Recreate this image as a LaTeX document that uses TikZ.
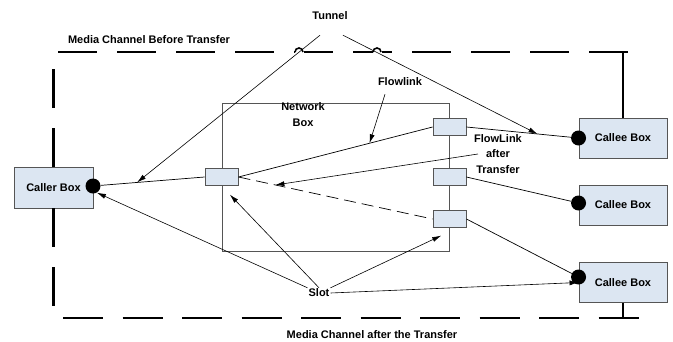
\documentclass[tikz,border=0pt]{standalone}
\usepackage{fontspec}
\setmainfont{Liberation Sans}
\usetikzlibrary{positioning,arrows.meta}
\definecolor{boxfill}{RGB}{220,230,242}
\definecolor{boxline}{RGB}{85,85,85}

\begin{document}
\begin{tikzpicture}[
    x=1pt,y=-1pt,
    font=\fontsize{11}{15.5}\selectfont\bfseries,
    mybox/.style={draw=boxline,fill=boxfill,line width=0.9pt,inner sep=0pt,
      minimum width=88pt,minimum height=40pt},
    myslot/.style={draw=boxline,fill=boxfill,line width=0.9pt,inner sep=0pt,
      minimum width=33pt,minimum height=17pt},
    mydot/.style={circle,fill=black,inner sep=0pt,minimum size=15pt},
    lbl/.style={align=center,inner sep=1pt},
    channel/.style={line width=2.6pt,dash pattern=on 39pt off 20pt},
    link/.style={line width=0.7pt},
    ptr/.style={line width=0.6pt,-{Latex[length=9pt,width=5pt]}}
  ]
  \useasboundingbox (0,0) rectangle (673,341);

  % boxes
  \node[draw=boxline,line width=0.9pt,inner sep=0pt,minimum width=227pt,
    minimum height=148pt] (NetworkBox) at (335.5,177) {};
  \node[mybox,minimum width=79pt,minimum height=41pt] (CallerBox) at (53.5,187.5) {Caller Box};
  \node[mybox] (CalleeA) at (623,138) {Callee Box};
  \node[mybox] (CalleeB) at (623,205) {Callee Box};
  \node[mybox] (CalleeC) at (623,282.5) {Callee Box};

  % labels
  \node[lbl] (NetLbl) at (303,114.5) {Network\\Box};
  \node[lbl] (Tunnel) at (330,16) {Tunnel};
  \node[lbl] (Flowlink) at (400,82) {Flowlink};
  \node[lbl] (FlowAfter) at (498,154) {FlowLink\\after\\Transfer};
  \node[lbl] (Slot) at (319,293) {Slot};
  \node[lbl] (Before) at (149,40) {Media Channel Before Transfer};
  \node[lbl] (After) at (372,335) {Media Channel after the Transfer};

  % media channels
  \coordinate (TopL) at (58,52);
  \coordinate (TopR) at (628,52);
  \coordinate (BotL) at (63,318);
  \coordinate (BotR) at (639,318);
  \coordinate (LeftTop) at (53.5,69);
  \coordinate (LeftBot) at (53.5,306);
  \draw[channel] (TopL) -- (TopR);
  \draw[channel,dash pattern=on 40pt off 19.5pt] (BotL) -- (BotR);
  \draw[channel] (CallerBox.north) -- (LeftTop);
  \draw[channel] (CallerBox.south) -- (LeftBot);
  \draw[line width=2.6pt] (CalleeA.north) -- (CalleeA.north |- TopR);
  \draw[line width=2.6pt] (CalleeC.south) -- (CalleeC.south |- BotR);
  \foreach \h in {299,377} {
    \fill[white] (\h-4.5,50) rectangle (\h+4.5,54);
    \draw[line width=1.6pt] (\h-4,52) arc[start angle=180,end angle=360,radius=4];
  }

  % slots and dots
  \node[myslot] (SlotL) at (NetworkBox.west) {};
  \node[myslot] (SlotA) at (449.5,127) {};
  \node[myslot] (SlotB) at (NetworkBox.east) {};
  \node[myslot] (SlotC) at (449.5,219) {};
  \node[mydot] (CallerDot) at (93,186) {};
  \node[mydot] (DotA) at (CalleeA.west) {};
  \node[mydot] (DotB) at ([yshift=2pt]CalleeB.west) {};
  \node[mydot] (DotC) at ([yshift=5.5pt]CalleeC.west) {};

  % flowlinks
  \draw[link] (CallerDot) -- (SlotL.west);
  \draw[link] (SlotL.east) -- (SlotA.west);
  \draw[link,dash pattern=on 12pt off 6pt] (SlotL.east) -- (SlotC.west);
  \draw[link] (SlotA.east) -- (DotA);
  \draw[link] (SlotB.east) -- (DotB);
  \draw[link] (SlotC.east) -- (DotC);

  \path (CallerDot) -- (SlotL.west) coordinate[pos=0.35] (TunTipL);
  \path (SlotA.east) -- (DotA) coordinate[pos=0.68] (TunTipR);
  \path (SlotL.east) -- (SlotA.west) coordinate[pos=0.675] (FlowTip);
  \path (SlotL.east) -- (SlotC.west) coordinate[pos=0.19] (AfterTip);

  % pointers
  \path ([shift={(-10,14)}]Tunnel.south) edge[ptr] (TunTipL)
    ([shift={(13,14)}]Tunnel.south) edge[ptr] (TunTipR)
    ([shift={(-15,7)}]Flowlink.south) edge[ptr] (FlowTip)
    ([xshift=5pt]FlowAfter.west) edge[ptr] (AfterTip)
    (Slot.north west) edge[ptr] (CallerDot.-60)
    (Slot.north) edge[ptr,shorten >=12pt] (SlotL.south)
    (Slot.north east) edge[ptr,shorten >=18pt] ([xshift=8pt]SlotC.south)
    (Slot.east) edge[ptr] (CalleeC.west);
\end{tikzpicture}
\end{document}
